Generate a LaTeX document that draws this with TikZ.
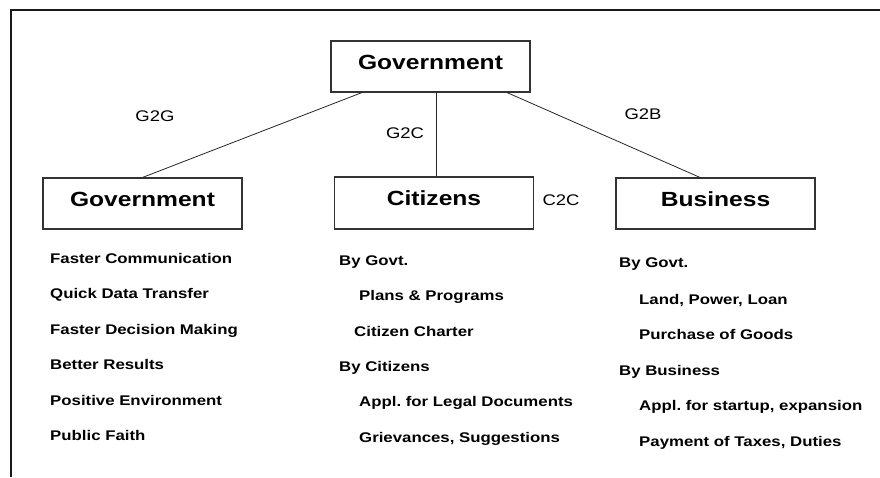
\documentclass[tikz,border=0pt]{standalone}
\usepackage{fontspec}
\setmainfont{Liberation Sans}[FakeStretch=1.2]
\usepackage{tikz}
\frenchspacing
\tikzstyle{party}=[draw=black!80, line width=1.1pt, minimum width=199pt, minimum height=51pt, text depth=9pt, inner sep=0pt, font=\fontsize{20.5}{24}\selectfont\bfseries]
\tikzstyle{channel}=[draw=black!85, line width=0.8pt]
\tikzstyle{mode}=[inner sep=0pt, font=\fontsize{15.4}{18}\selectfont]
\tikzstyle{entry}=[anchor=base west, inner sep=0pt, font=\fontsize{14}{17}\selectfont\bfseries]

\begin{document}
\begin{tikzpicture}[x=1pt,y=-1pt]
            \useasboundingbox (0,0) rectangle (880,477);
            % Marco
            \draw[line width=1.6pt, black!90] (880,10) -- (11,10) -- (11,477);
            % Cajas
            \node[party] (gov) at (430.5,66.5) {Government};
            \node[party] (ggov) at (142.5,203.5) {Government};
            \node[party, minimum height=52pt] (citz) at (434,203) {Citizens};
            \node[party] (biz) at (715.5,203.5) {Business};
            % Enlaces
            \draw[channel] ([xshift=-68.5pt]gov.south) -- (ggov.north);
            \draw[channel] ([xshift=5.5pt]gov.south) -- ([xshift=2pt]citz.north);
            \draw[channel] ([xshift=76.5pt]gov.south) -- ([xshift=-15.5pt]biz.north);
            % Etiquetas
            \node[mode] (g2g) at (155,116) {G2G};
            \node[mode] (g2c) at (405,133) {G2C};
            \node[mode] (g2b) at (643,114) {G2B};
            \node[mode] (c2c) at (561,200) {C2C};
            % Lista G2G
            \node[entry] (l1) at (50,263.3) {Faster Communication};
            \node[entry] (l2) at (50,298.3) {Quick Data Transfer};
            \node[entry] (l3) at (50,334) {Faster Decision Making};
            \node[entry] (l4) at (50,369) {Better Results};
            \node[entry] (l5) at (50,405) {Positive Environment};
            \node[entry] (l6) at (50,440) {Public Faith};
            % Lista G2C
            \node[entry] (c1) at (339,265) {By Govt.};
            \node[entry] (c2) at (359,300.7) {Plans \& Programs};
            \node[entry] (c3) at (354,336) {Citizen Charter};
            \node[entry] (c4) at (339,371.7) {By Citizens};
            \node[entry] (c5) at (359,406.7) {Appl. for Legal Documents};
            \node[entry] (c6) at (359,442.3) {Grievances, Suggestions};
            % Lista G2B
            \node[entry] (b1) at (619,267.3) {By Govt.};
            \node[entry] (b2) at (639,304) {Land, Power, Loan};
            \node[entry] (b3) at (639,339.3) {Purchase of Goods};
            \node[entry] (b4) at (619,375) {By Business};
            \node[entry] (b5) at (639,410.7) {Appl. for startup, expansion};
            \node[entry] (b6) at (639,446) {Payment of Taxes, Duties};
        \end{tikzpicture}
\end{document}
